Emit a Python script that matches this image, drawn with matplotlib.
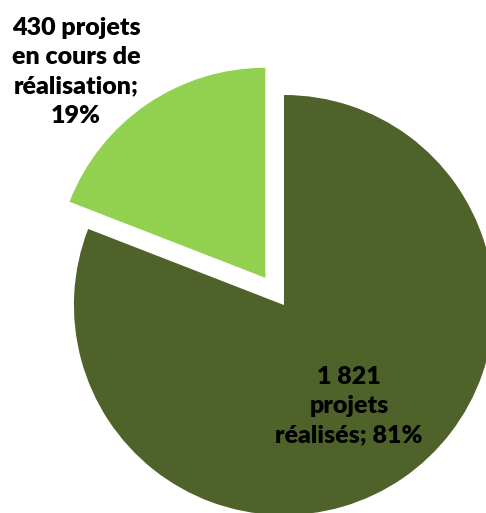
import matplotlib
matplotlib.use("Agg")
import matplotlib.pyplot as plt

categories = ["1 821\nprojets\nréalisés; 81%", "430 projets\nen cours de\nréalisation;\n19%"]
values = [1821, 430]
colors = ["#4F6229", "#92D050"]

fig = plt.figure(figsize=(4.86, 5.13), dpi=100)
ax = fig.add_axes([0, 0, 1, 1])
ax.set_axis_off()

wedges, _ = ax.pie(values, colors=colors, startangle=90, counterclock=False,
                   explode=[0, 0.157], radius=1.0, center=(0, 0),
                   wedgeprops=dict(linewidth=0))
ax.set_aspect("equal")
ax.set_xlim(-1.352, 0.962)
ax.set_ylim(-0.990, 1.452)

font = dict(family=["Lato", "DejaVu Sans"], fontweight="heavy", fontsize=18,
            ha="center", va="center", color="black", linespacing=1.4)
ax.text(0.310, -0.481, categories[0], **font)
ax.text(-0.990, 1.110, categories[1], **font)

fig.savefig("out.png", dpi=100)
